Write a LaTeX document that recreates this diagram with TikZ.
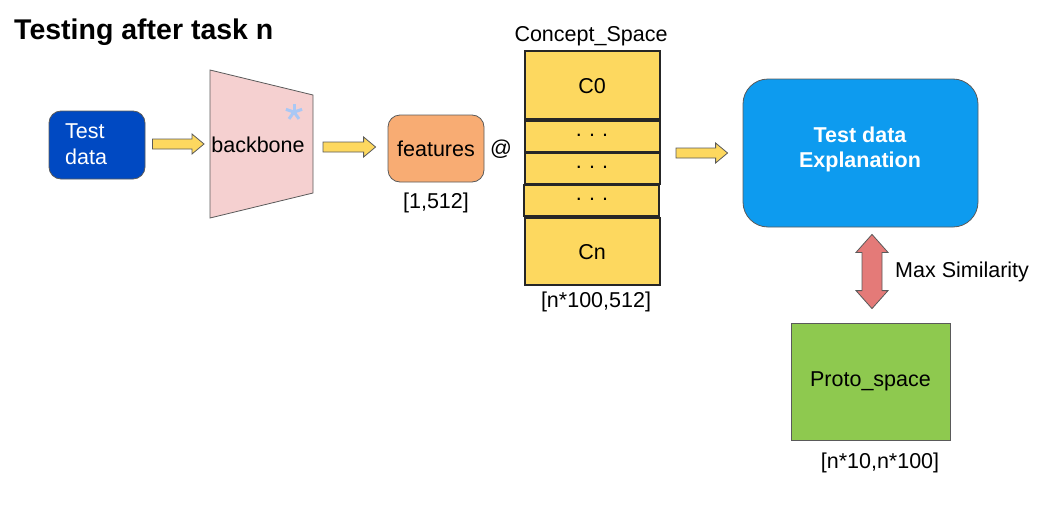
\documentclass[tikz,border=0pt]{standalone}
\usepackage{fontspec}
\setmainfont{Liberation Sans}
\usetikzlibrary{calc}
\definecolor{tdblue}{HTML}{0049C2}
\definecolor{bbpink}{HTML}{F5D0D0}
\definecolor{featorange}{HTML}{F8AC73}
\definecolor{cyellow}{HTML}{FDD85F}
\definecolor{expblue}{HTML}{0D9BEF}
\definecolor{simred}{HTML}{E47A78}
\definecolor{pgreen}{HTML}{8EC94F}
\definecolor{edgegray}{HTML}{5A5A5A}
\definecolor{stargray}{HTML}{A9C8F5}
\tikzset{
  lbl/.style={font=\fontsize{21.5}{26}\selectfont, inner sep=0pt},
  fatarrow/.style={draw=edgegray, fill=cyellow, line width=0.8pt, line join=miter},
  cbox/.style={draw=black!85, line width=1.6pt, fill=cyellow},
}
% horizontal block arrow from #1 to #2 (same height)
\newcommand\hblockarrow[2]{%
  \draw[fatarrow] let \p1=(#1), \p2=(#2) in
    (\x1,\y1+5pt) -- (\x2-12pt,\y1+5pt) -- (\x2-12pt,\y1+10pt) -- (\x2,\y1)
    -- (\x2-12pt,\y1-10pt) -- (\x2-12pt,\y1-5pt) -- (\x1,\y1-5pt) -- cycle;}
\begin{document}
\begin{tikzpicture}[x=1pt,y=-1pt]
\useasboundingbox (0,0) rectangle (1051,511);
% title
\node[anchor=west, inner sep=0pt, font=\fontsize{28.5}{32}\selectfont\bfseries] (title) at (14,32) {Testing after task n};
% test data
\node[draw=edgegray, line width=0.8pt, fill=tdblue, rounded corners=12pt, minimum width=96pt, minimum height=68pt, inner sep=0pt] (td) at (97,145) {};
\node[lbl, text=white, align=left, anchor=west] (tdtext) at (65,144) {Test\\data};
% backbone trapezoid
\draw[draw=edgegray, line width=0.8pt, fill=bbpink] (210,70) -- (313,95) -- (313,193) -- (210,218) -- cycle;
\coordinate (bbL) at (210,144);
\coordinate (bbR) at (313,147);
\node[lbl] (bb) at (258,145) {backbone};
\coordinate (star) at (294,112);
\foreach \a in {90,18,162,234,306}
  \draw[stargray, line width=3pt] (star) -- ++(\a:-8.5);
% features
\node[draw=edgegray, line width=0.8pt, fill=featorange, rounded corners=12pt, minimum width=96pt, minimum height=67pt, inner sep=0pt, lbl] (feat) at (436,148.5) {features};
\node[lbl] (featdim) at (436,203) {[1,512]};
\node[lbl] (at) at (501,149) {@};
% concept space
\node[lbl] (cslabel) at (591,36) {Concept\_Space};
\draw[cbox] (525,51) rectangle (660,119);
\draw[cbox] (525,121) rectangle (660,152);
\draw[cbox] (525,153) rectangle (660,184);
\draw[cbox] (524,185) rectangle (659,216);
\draw[cbox] (525,218) rectangle (660,285);
\coordinate (csR) at (660,153);
\node[lbl] (c0) at (592,86) {C0};
\node[lbl] (d1) at (592,135) {.\,\,.\,\,.};
\node[lbl] (d2) at (592,167) {.\,\,.\,\,.};
\node[lbl] (d3) at (592,199) {.\,\,.\,\,.};
\node[lbl] (cn) at (592,252) {Cn};
\node[lbl] (csdim) at (596,302) {[n*100,512]};
% explanation
\node[draw=edgegray, line width=0.8pt, fill=expblue, rounded corners=25pt, minimum width=235pt, minimum height=148pt, inner sep=0pt] (exp) at (860.5,153) {};
\node[lbl, text=white, align=center, font=\fontsize{21.5}{25}\selectfont\bfseries] (exptext) at (860,149) {Test data\\Explanation};
% proto space
\node[draw=edgegray, line width=0.8pt, fill=pgreen, minimum width=159pt, minimum height=117pt, inner sep=0pt, lbl] (proto) at (870.5,381.5) {Proto\_space};
\node[lbl] (protodim) at (880,463) {[n*10,n*100]};
\node[lbl, anchor=west] (sim) at (895,272) {Max Similarity};
% block arrows
\coordinate (a1s) at ($(td.east)+(7,-1)$);
\coordinate (a1e) at ($(bbL)+(-6,0)$);
\coordinate (a2s) at ($(bbR)+(10,0)$);
\coordinate (a2e) at ($(feat.west)+(-12,-1.5)$);
\coordinate (a3s) at ($(csR)+(16,0)$);
\coordinate (a3e) at ($(exp.west)+(-15,0)$);
\hblockarrow{a1s}{a1e}
\hblockarrow{a2s}{a2e}
\hblockarrow{a3s}{a3e}
% double arrow
\coordinate (dtop) at ($(exp.south)+(11.5,7)$);
\coordinate (dbot) at ($(proto.north)+(1.5,-14)$);
\draw[draw=edgegray, fill=simred, line width=0.8pt, line join=miter] let \p1=(dtop), \p2=(dbot) in
  (\x1,\y1) -- (\x1+16pt,\y1-18pt) -- (\x1+10pt,\y1-18pt) -- (\x1+10pt,\y2+18pt) -- (\x1+16pt,\y2+18pt)
  -- (\x2,\y2) -- (\x1-16pt,\y2+18pt) -- (\x1-10pt,\y2+18pt) -- (\x1-10pt,\y1-18pt) -- (\x1-16pt,\y1-18pt) -- cycle;
\end{tikzpicture}
\end{document}
